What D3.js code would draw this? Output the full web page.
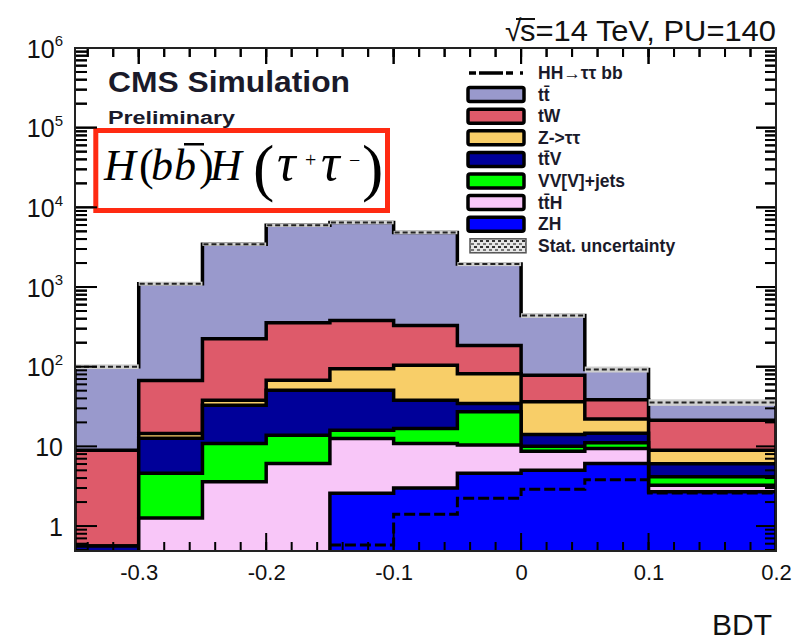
<!DOCTYPE html>
<html>
<head>
<meta charset="utf-8">
<script src="https://cdn.jsdelivr.net/npm/d3@7"></script>
<style>
  body { margin: 0; background: #fff; }
</style>
</head>
<body>
<div id="chart"></div>
<script>
// bins of the BDT output
var binEdges = [-0.35, -0.3, -0.25, -0.2, -0.15, -0.1, -0.05, 0, 0.05, 0.1, 0.2];

// events per bin, each process (stacked bottom -> top)
var zh    = [0, 0, 0, 0, 2.58, 3.0, 4.6, 5.0, 6.1, 2.7];
var tth   = [0, 1.26, 3.6, 6.1, 10.0, 7.9, 5.8, 3.66, 3.3, 0.55];
var vv    = [0, 3.34, 7.3, 7.7, 3.4, 5.9, 16.7, 1.34, 1.7, 0.9];
var ttv   = [0.56, 8.0, 21.9, 36.8, 34.6, 21.1, 7.4, 4.1, 3.5, 1.9];
var ztt   = [0, 1.9, 5.1, 16.8, 43.8, 66, 47.2, 22.1, 7.4, 2.9];
var tw    = [8.4, 52.5, 186, 288, 285, 224, 103, 41.7, 16.6, 12.3];
var ttbar = [91, 1033, 3223, 5600, 6060, 4500, 1754, 360, 53.5, 14.2];

// signal (not stacked) and relative stat. uncertainty of the total
var hh      = [0.3, 0.3, 0.3, 0.3, 0.58, 1.41, 2.24, 2.9, 3.8, 2.6];
var statUnc = [0.07, 0.06, 0.05, 0.05, 0.05, 0.05, 0.06, 0.07, 0.09, 0.1];

var keys    = ["zh", "tth", "vv", "ttv", "ztt", "tw", "ttbar"];
var colours = ["#0000ff", "#f8c6f8", "#00ff00", "#000099", "#f8ce68", "#de5a6a", "#9999cc"];

var legendLabels = ["HH\u2192\u03c4\u03c4 bb", "tt\u0304", "tW", "Z->\u03c4\u03c4", "tt\u0304V", "VV[V]+jets", "tt\u0304H", "ZH", "Stat. uncertainty"];

var xTicks = [-0.3, -0.2, -0.1, 0, 0.1, 0.2];
var xTickLabels = ["-0.3", "-0.2", "-0.1", "0", "0.1", "0.2"];
var yTicks = [1, 10, 100, 1e3, 1e4, 1e5, 1e6];

var sans = "'Liberation Sans', Arial, sans-serif";
var serif = "'Liberation Serif', 'Times New Roman', serif";

// ---- frame
var W = 796, H = 640;
var pLeft = 75, pRight = 776, pTop = 48, pBottom = 551;
var yMin = 0.486;

var svg = d3.select("#chart").append("svg")
    .attr("width", W)
    .attr("height", H);

svg.append("rect").attr("width", W).attr("height", H).attr("fill", "#fff");

var x = d3.scaleLinear().domain([-0.35, 0.2]).range([pLeft, pRight]);
var y = d3.scaleLog().domain([yMin, 1e6]).range([pBottom, pTop]);

var xMinor = d3.range(-0.34, 0.2001, 0.02).map(function (v) { return Math.round(v * 100) / 100; });
var yMinor = [];
[0.1, 1, 10, 100, 1e3, 1e4, 1e5].forEach(function (dec) {
    for (var m = 2; m <= 9; m++) {
        var v = dec * m;
        if (v >= yMin && v <= 1e6) yMinor.push(v);
    }
});

// ticks as thin filled bars (inside, ROOT style) + frame
function drawTicksAndFrame(parent) {
    var g = parent.append("g").attr("fill", "#000");
    function xBars(vals, yy, len) {
        g.append("g").selectAll("rect")
            .data(vals)
            .enter().append("rect")
            .attr("x", function (d) { return x(d) - 1; })
            .attr("width", 2)
            .attr("y", len < 0 ? yy + len : yy)
            .attr("height", Math.abs(len));
    }
    function yBars(vals, xx, len) {
        g.append("g").selectAll("rect")
            .data(vals)
            .enter().append("rect")
            .attr("y", function (d) { return y(d) - 1; })
            .attr("height", 2)
            .attr("x", len < 0 ? xx + len : xx)
            .attr("width", Math.abs(len));
    }
    xBars(xMinor, pBottom, -9);
    xBars(xTicks, pBottom, -18);
    xBars(xMinor, pTop, 9);
    xBars(xTicks, pTop, 16);
    yBars(yMinor, pLeft, 12);
    yBars(yTicks, pLeft, 22);
    yBars(yMinor, pRight, -11);
    yBars(yTicks, pRight, -20);
    var f = parent.append("g").attr("fill", "#222");
    f.append("rect").attr("x", pLeft - 1).attr("y", pTop - 1).attr("width", pRight - pLeft + 2).attr("height", 2);
    f.append("rect").attr("x", pLeft - 1).attr("y", pBottom - 1).attr("width", pRight - pLeft + 2).attr("height", 2);
    f.append("rect").attr("x", pLeft - 1).attr("y", pTop - 1).attr("width", 2).attr("height", pBottom - pTop + 2);
    f.append("rect").attr("x", pRight - 1).attr("y", pTop - 1).attr("width", 2).attr("height", pBottom - pTop + 2);
}
drawTicksAndFrame(svg);

var defs = svg.append("defs");
defs.append("clipPath").attr("id", "plotclip")
    .append("rect")
    .attr("x", pLeft).attr("y", pTop)
    .attr("width", pRight - pLeft).attr("height", pBottom - pTop);

var pat = defs.append("pattern").attr("id", "hatch")
    .attr("patternUnits", "userSpaceOnUse")
    .attr("width", 6).attr("height", 6);
pat.append("rect").attr("width", 6).attr("height", 6).attr("fill", "#e6e6e6");
pat.append("rect").attr("x", 0).attr("y", 0).attr("width", 3).attr("height", 2).attr("fill", "#333");
pat.append("rect").attr("x", 3).attr("y", 3).attr("width", 3).attr("height", 2).attr("fill", "#777");

// table for d3.stack
var rows = binEdges.slice(0, -1).map(function (e, i) {
    return { lo: e, hi: binEdges[i + 1], zh: zh[i], tth: tth[i], vv: vv[i], ttv: ttv[i], ztt: ztt[i], tw: tw[i], ttbar: ttbar[i] };
});
var stacked = d3.stack().keys(keys)(rows);

// step points: start and end drop to the floor
function stepPoints(vals) {
    var n = vals.length;
    var pts = [[binEdges[0], 0.01]];
    vals.forEach(function (v, i) { pts.push([binEdges[i], v]); });
    pts.push([binEdges[n], vals[n - 1]]);
    pts.push([binEdges[n], 0.01]);
    return pts;
}

var stepArea = d3.area()
    .x(function (d) { return x(d[0]); })
    .y0(pBottom + 10)
    .y1(function (d) { return y(Math.max(d[1], 0.01)); })
    .curve(d3.curveStepAfter);

var stepLine = d3.line()
    .x(function (d) { return x(d[0]); })
    .y(function (d) { return y(Math.max(d[1], 0.01)); })
    .curve(d3.curveStepAfter);

var plot = svg.append("g").attr("clip-path", "url(#plotclip)");

// draw the largest cumulative first, like THStack
for (var k = stacked.length - 1; k >= 0; k--) {
    var tops = stacked[k].map(function (d) { return d[1]; });
    var pts = stepPoints(tops);
    plot.append("path")
        .attr("d", stepArea(pts))
        .attr("fill", colours[k]);
    plot.append("path")
        .attr("d", stepLine(pts))
        .attr("fill", "none")
        .attr("stroke", "#000")
        .attr("stroke-width", 3.5);
}

// stat. uncertainty band on the total
var totals = stacked[stacked.length - 1].map(function (d) { return d[1]; });
var unc = svg.append("g");
unc.selectAll("rect")
    .data(rows)
    .enter().append("rect")
    .attr("x", function (d) { return x(d.lo); })
    .attr("width", function (d) { return x(d.hi) - x(d.lo); })
    .attr("y", function (d, i) { return y(totals[i] * (1 + statUnc[i])); })
    .attr("height", function (d, i) { return y(totals[i] / (1 + statUnc[i])) - y(totals[i] * (1 + statUnc[i])); })
    .attr("fill", "#cfcfcf");
unc.selectAll("line")
    .data(rows)
    .enter().append("line")
    .attr("x1", function (d) { return x(d.lo) + 1; })
    .attr("x2", function (d) { return x(d.hi) - 1; })
    .attr("y1", function (d, i) { return y(totals[i]); })
    .attr("y2", function (d, i) { return y(totals[i]); })
    .attr("stroke", "#222")
    .attr("stroke-width", 2)
    .attr("stroke-dasharray", "5,3");

// signal line (only where it is inside the y range)
var hhLine = d3.line()
    .defined(function (d) { return d[1] >= yMin; })
    .x(function (d) { return x(d[0]); })
    .y(function (d) { return y(d[1]); })
    .curve(d3.curveStepAfter);
svg.append("path")
    .attr("d", hhLine(stepPoints(hh).slice(1, -1)))
    .attr("fill", "none")
    .attr("stroke", "#000")
    .attr("stroke-width", 3)
    .attr("stroke-dasharray", "11,4");

// ---- axis labels through d3 axes
var xAxisG = svg.append("g")
    .attr("transform", "translate(0," + pBottom + ")")
    .call(d3.axisBottom(x).tickValues(xTicks).tickSize(0).tickPadding(13)
        .tickFormat(function (d, i) { return xTickLabels[i]; }));
xAxisG.select(".domain").remove();
xAxisG.selectAll("text")
    .style("font-family", sans)
    .style("font-size", "22px")
    .attr("fill", "#111");

var yAxisG = svg.append("g")
    .attr("transform", "translate(" + pLeft + ",0)")
    .call(d3.axisLeft(y).tickValues(yTicks).tickSize(0).tickPadding(12));
yAxisG.select(".domain").remove();
yAxisG.selectAll(".tick text")
    .style("font-family", sans)
    .style("font-size", "25px")
    .attr("fill", "#111")
    .attr("dy", "0.36em")
    .each(function (d) {
        var e = Math.round(Math.log10(d));
        var t = d3.select(this).text("");
        if (e === 0) { t.text("1"); return; }
        t.append("tspan").text("10");
        if (e > 1) {
            t.append("tspan").style("font-size", "15px").attr("dy", "-0.75em").text(e);
        }
    });

// ---- legend
var legX = 468, legY0 = 73, legStep = 21.6;
var leg = svg.append("g");
legendLabels.forEach(function (lab, i) {
    var cy = legY0 + i * legStep;
    if (i === 0) {
        leg.append("line")
            .attr("x1", legX + 1).attr("x2", legX + 56)
            .attr("y1", cy).attr("y2", cy)
            .attr("stroke", "#000").attr("stroke-width", 3.5)
            .attr("stroke-dasharray", "7,3,24,3,7");
    } else if (i === legendLabels.length - 1) {
        leg.append("rect")
            .attr("x", legX + 2).attr("y", cy - 7)
            .attr("width", 56).attr("height", 14)
            .attr("fill", "url(#hatch)")
            .attr("stroke", "#555").attr("stroke-width", 1.5);
    } else {
        var ci = keys.length - i;
        leg.append("rect")
            .attr("x", legX).attr("y", cy - 7)
            .attr("width", 56).attr("height", 14)
            .attr("rx", 2)
            .attr("fill", colours[ci])
            .attr("stroke", "#000").attr("stroke-width", 3.5);
    }
    leg.append("text")
        .attr("x", 538).attr("y", cy + 6)
        .style("font-family", sans)
        .style("font-size", "17.5px")
        .style("font-weight", "bold")
        .attr("fill", "#1a1a2a")
        .text(lab);
});

// ---- texts
svg.append("text")
    .attr("x", 108).attr("y", 92)
    .style("font-family", sans)
    .style("font-size", "29px").style("font-weight", "bold")
    .attr("textLength", 242).attr("lengthAdjust", "spacingAndGlyphs")
    .attr("fill", "#1a1a2a")
    .text("CMS Simulation");
svg.append("text")
    .attr("x", 108).attr("y", 124)
    .style("font-family", sans)
    .style("font-size", "18px").style("font-weight", "bold")
    .attr("textLength", 127).attr("lengthAdjust", "spacingAndGlyphs")
    .attr("fill", "#1a1a2a")
    .text("Preliminary");

svg.append("text")
    .attr("x", 505).attr("y", 41)
    .style("font-family", sans)
    .style("font-size", "30px").attr("fill", "#111")
    .text("\u221a");
svg.append("rect")
    .attr("x", 516).attr("y", 18).attr("width", 19).attr("height", 2)
    .attr("fill", "#111");
svg.append("text")
    .attr("x", 520).attr("y", 41)
    .style("font-family", sans)
    .style("font-size", "30px").attr("fill", "#111")
    .attr("textLength", 256).attr("lengthAdjust", "spacingAndGlyphs")
    .text("s=14 TeV, PU=140");

svg.append("text")
    .attr("x", 712).attr("y", 635)
    .style("font-family", sans)
    .style("font-size", "30px").attr("fill", "#111")
    .text("BDT");

// red box with the process formula
var box = svg.append("g");
box.append("rect")
    .attr("x", 95.8).attr("y", 130.5)
    .attr("width", 291.7).attr("height", 80)
    .attr("fill", "#fff")
    .attr("stroke", "#ff2a12").attr("stroke-width", 5);

function mathText(str, xx, yy, size, italic) {
    box.append("text")
        .attr("x", xx).attr("y", yy)
        .style("font-family", serif)
        .style("font-size", size + "px")
        .style("font-style", italic ? "italic" : "normal")
        .attr("fill", "#000")
        .text(str);
}
mathText("H", 104, 180, 44, true);
mathText("(", 139, 180, 44, false);
mathText("b", 151, 180, 44, true);
mathText("b", 174, 180, 44, true);
box.append("rect").attr("x", 184).attr("y", 143).attr("width", 20).attr("height", 2.5)
    .attr("fill", "#000");
mathText(")", 199, 180, 44, false);
mathText("H", 210, 180, 44, true);
mathText("(", 253, 189, 64, false);
mathText("\u03c4", 277, 180, 52, true);
mathText("+", 305, 167, 20, false);
mathText("\u03c4", 321, 180, 52, true);
mathText("\u2212", 349, 167, 20, false);
mathText(")", 362, 189, 64, false);

// ticks and frame again on top of everything
drawTicksAndFrame(svg);
</script>
</body>
</html>
